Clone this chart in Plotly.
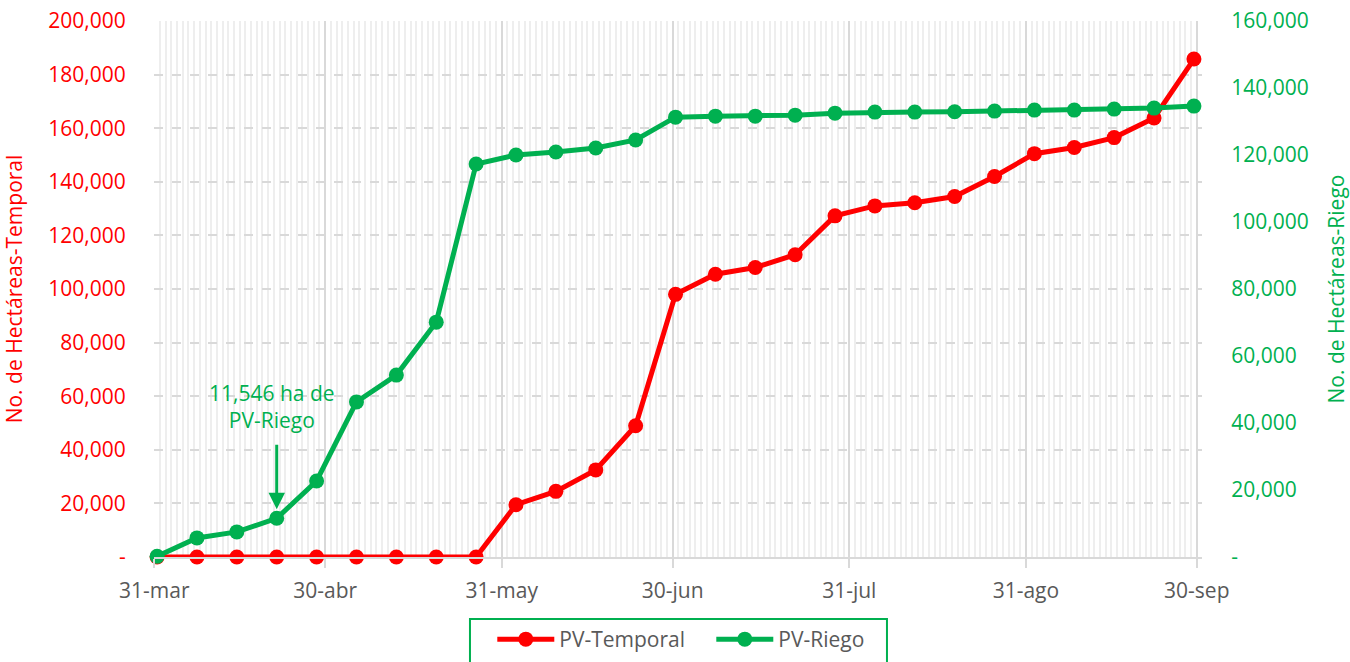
import plotly.graph_objects as go
from datetime import datetime, timedelta

# ---- data ----
fechas = [
    "2023-03-31", "2023-04-07", "2023-04-14", "2023-04-21", "2023-04-28",
    "2023-05-05", "2023-05-12", "2023-05-19", "2023-05-26", "2023-06-02",
    "2023-06-09", "2023-06-16", "2023-06-23", "2023-06-30", "2023-07-07",
    "2023-07-14", "2023-07-21", "2023-07-28", "2023-08-04", "2023-08-11",
    "2023-08-18", "2023-08-25", "2023-09-01", "2023-09-08", "2023-09-15",
    "2023-09-22", "2023-09-29",
]
pv_temporal = [
    0, 0, 0, 0, 0, 0, 0, 0, 0, 19500,
    24500, 32500, 49000, 98000, 105500, 108000, 112800, 127300, 131000, 132200,
    134500, 142000, 150500, 152800, 156500, 163800, 185800,
]
pv_riego = [
    200, 5700, 7500, 11546, 22700, 46300, 54300, 70100, 117300, 120000,
    120900, 122100, 124500, 131300, 131600, 131600, 131900, 132500, 132800, 132800,
    132900, 133100, 133400, 133400, 133700, 134000, 134600,
]
tick_fechas = ["2023-03-31", "2023-04-30", "2023-05-31", "2023-06-30",
               "2023-07-31", "2023-08-31", "2023-09-30"]
tick_labels = ["31-mar", "30-abr", "31-may", "30-jun", "31-jul", "31-ago", "30-sep"]
y1_ticks = [0, 20000, 40000, 60000, 80000, 100000, 120000, 140000, 160000, 180000, 200000]
y2_ticks = [0, 20000, 40000, 60000, 80000, 100000, 120000, 140000, 160000]
annot_text = "11,546 ha de<br>PV-Riego"
annot_idx = 3

RED = "#FF0000"
GREEN = "#00B050"
GREY = "#595959"
FONT = "Open Sans"
FS = 21


def fmt(v):
    return "-" if v == 0 else f"{v:,}"


# grid boundaries sit half a day before each date (date-axis "between" layout)
tickvals = [datetime.fromisoformat(d) - timedelta(hours=12) for d in tick_fechas]

fig = go.Figure()
fig.add_trace(go.Scatter(
    x=fechas, y=pv_temporal, name="PV-Temporal", mode="lines+markers",
    line=dict(color=RED, width=5), marker=dict(color=RED, size=15),
    cliponaxis=False, yaxis="y",
))
fig.add_trace(go.Scatter(
    x=fechas, y=pv_riego, name="PV-Riego", mode="lines+markers",
    line=dict(color=GREEN, width=5), marker=dict(color=GREEN, size=15),
    cliponaxis=False, yaxis="y2",
))

fig.update_layout(
    width=1350, height=662,
    margin=dict(l=154, r=148, t=21, b=105, autoexpand=False),
    paper_bgcolor="white", plot_bgcolor="white",
    font=dict(family=FONT, size=FS, color=GREY),
    showlegend=True,
    legend=dict(
        orientation="h", x=0.3228, xanchor="left", y=-0.1157, yanchor="top",
        borderwidth=0, font=dict(size=FS, color=GREY),
        itemwidth=57, entrywidth=147, bgcolor="rgba(0,0,0,0)",
    ),
    xaxis=dict(
        type="date", automargin=False,
        range=["2023-03-30 11:00", "2023-09-30 10:00"],
        tickmode="array", tickvals=tickvals, ticktext=tick_labels,
        showgrid=True, gridcolor="#D9D9D9", gridwidth=2,
        ticks="outside", ticklen=9, tickcolor="#D9D9D9", tickwidth=2,
        ticklabelstandoff=5,
        showline=True, linecolor="#D9D9D9", linewidth=2,
        zeroline=False,
        tickfont=dict(size=FS, color=GREY),
        minor=dict(tickmode="linear", dtick=86400000, tick0="2023-03-30 12:00",
                   showgrid=True, gridcolor="#EEEEEE", gridwidth=1.5, ticks=""),
    ),
    yaxis=dict(
        range=[0, 200000], tickmode="array", tickvals=y1_ticks, automargin=False,
        ticktext=[fmt(v) for v in y1_ticks],
        showgrid=True, gridcolor="#D9D9D9", gridwidth=2, griddash="dash",
        zeroline=False, showline=False,
        ticks="outside", ticklen=23, tickcolor="rgba(0,0,0,0)",
        tickfont=dict(size=FS, color=RED),
        title=dict(text="No. de Hectáreas-Temporal", font=dict(size=FS, color=RED), standoff=19),
    ),
    yaxis2=dict(
        range=[0, 160000], overlaying="y", side="right", tickmode="array",
        automargin=False,
        tickvals=y2_ticks, ticktext=[fmt(v) for v in y2_ticks],
        showgrid=False, zeroline=False, showline=False,
        ticks="outside", ticklen=24, tickcolor="rgba(0,0,0,0)",
        tickfont=dict(size=FS, color=GREEN),
        title=dict(text="No. de Hectáreas-Riego", font=dict(size=FS, color=GREEN), standoff=23),
    ),
    shapes=[dict(
        type="rect", xref="paper", yref="paper",
        x0=0.3015, x1=0.6994, y0=-0.1157, y1=-0.25,
        line=dict(color=GREEN, width=2), fillcolor="rgba(0,0,0,0)", layer="above",
    )],
)

fig.add_annotation(
    x=fechas[annot_idx], y=pv_riego[annot_idx], xref="x", yref="y2",
    text="", showarrow=True, ax=0, ay=-75, standoff=9,
    arrowhead=2, arrowsize=1.1, arrowwidth=3, arrowcolor=GREEN,
)
fig.add_annotation(
    x=fechas[annot_idx], y=pv_riego[annot_idx], xref="x", yref="y2",
    text=annot_text, showarrow=False, yshift=112, xshift=-5,
    font=dict(size=FS, color=GREEN, family=FONT),
)

fig.write_html("out.html", config={"displayModeBar": False},
               post_script="document.body.style.margin='0px';")
